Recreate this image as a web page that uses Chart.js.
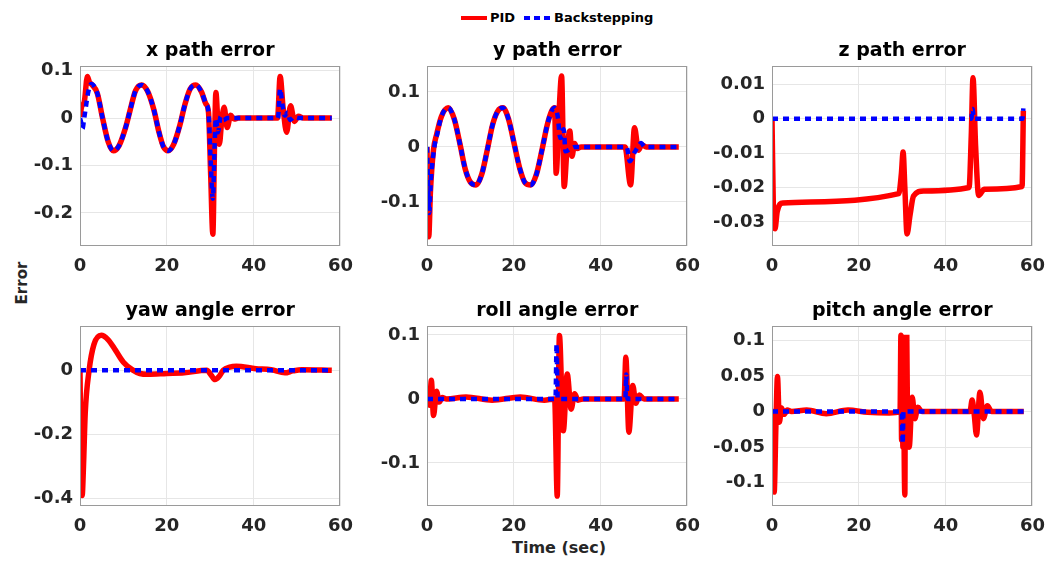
<!DOCTYPE html>
<html>
<head>
<meta charset="utf-8">
<script src="https://cdn.jsdelivr.net/npm/chart.js@4.4.1/dist/chart.umd.min.js"></script>
<style>
body{margin:0;width:1053px;height:561px;background:#fff;position:relative;overflow:hidden;
  font-family:"DejaVu Sans",sans-serif;font-weight:bold;}
canvas{position:absolute;}
.lbl{position:absolute;color:#262626;white-space:nowrap;line-height:1;}
.sw{position:absolute;height:4px;}
</style>
</head>
<body>
<!-- legend -->
<div class="sw" style="left:461px;top:16px;width:26px;background:#ff0000;"></div>
<div class="lbl" style="left:490px;top:11px;font-size:13px;color:#000;">PID</div>
<div class="sw" style="left:524px;top:16px;width:27px;background:repeating-linear-gradient(to right,#0000ff 0 6px,transparent 6px 10px);"></div>
<div class="lbl" style="left:554px;top:11px;font-size:13px;color:#000;">Backstepping</div>
<!-- shared axis labels -->
<div class="lbl" style="left:22px;top:283px;font-size:15px;transform:translate(-50%,-50%) rotate(-90deg);">Error</div>
<div class="lbl" style="left:559px;top:548px;font-size:16px;transform:translate(-50%,-50%);">Time (sec)</div>

<canvas id="c0" width="355" height="252"></canvas>
<canvas id="c1" width="355" height="252"></canvas>
<canvas id="c2" width="355" height="252"></canvas>
<canvas id="c3" width="355" height="252"></canvas>
<canvas id="c4" width="355" height="252"></canvas>
<canvas id="c5" width="355" height="252"></canvas>

<script>
// 时间轴刻度
var timeTicks = [0, 20, 40, 60];

// x path error
var xPidT = [0, 0.4, 1.0, 1.7, 2.2, 2.6, 4.0, 5.2, 6.5, 7.7, 9.0, 10.5, 11.5, 12.8, 14.2, 15.6, 17.0, 18.2, 19.2, 20.3, 21.6, 23.0, 24.2, 25.4, 26.7, 28.0, 29.0, 29.6, 30.1, 30.6, 31.0, 31.3, 31.7, 32.1, 32.6, 33.2, 33.9, 34.7, 35.5, 36.5, 45.5, 46.1, 46.8, 47.6, 48.5, 49.4, 50.3, 51.5, 58];
var xPidE = [0.003, 0.025, 0.035, 0.088, 0.075, 0.072, 0.052, 0.0, -0.05, -0.069, -0.058, -0.02, 0.015, 0.058, 0.07, 0.056, 0.018, -0.03, -0.06, -0.069, -0.055, -0.015, 0.03, 0.062, 0.07, 0.055, 0.03, 0.012, -0.12, -0.245, -0.05, 0.054, 0.0, -0.055, -0.01, 0.023, -0.02, 0.006, -0.002, 0, 0, 0.088, 0.02, -0.03, 0.026, -0.007, 0.004, 0, 0];
var xBsT = [0, 0.3, 0.6, 0.9, 1.3, 1.9, 2.6, 4.0, 5.2, 6.5, 7.7, 9.0, 10.5, 11.5, 12.8, 14.2, 15.6, 17.0, 18.2, 19.2, 20.3, 21.6, 23.0, 24.2, 25.4, 26.7, 28.0, 29.0, 29.6, 30.1, 30.6, 31.0, 31.3, 31.8, 32.4, 33.0, 34.0, 45.6, 46.1, 46.6, 47.2, 47.8, 48.4, 49.3, 50.5, 58];
var xBsE = [0, -0.01, -0.022, -0.005, 0.02, 0.055, 0.072, 0.052, 0.0, -0.05, -0.069, -0.058, -0.02, 0.015, 0.058, 0.07, 0.056, 0.018, -0.03, -0.06, -0.069, -0.055, -0.015, 0.03, 0.062, 0.07, 0.055, 0.03, 0.012, -0.09, -0.17, -0.06, 0.0, -0.03, 0.003, -0.004, 0, 0, 0.062, 0.03, 0.005, 0.012, -0.004, 0.002, 0, 0];
var xTicks = [-0.2, -0.1, 0, 0.1];

// y path error
var yPidT = [0, 0.15, 0.4, 0.8, 1.5, 2.2, 3.3, 4.9, 6.3, 7.6, 8.8, 10.0, 11.3, 12.6, 13.9, 15.1, 16.3, 17.5, 18.8, 20.1, 21.4, 22.6, 23.9, 25.2, 26.5, 27.7, 28.7, 29.4, 29.75, 30.4, 31.0, 31.6, 32.2, 32.9, 33.4, 34.0, 34.6, 35.5, 45.6, 46.9, 47.8, 48.7, 49.5, 50.5, 58];
var yPidE = [0, -0.08, -0.163, -0.08, -0.005, 0.022, 0.055, 0.071, 0.05, 0.005, -0.04, -0.064, -0.069, -0.05, -0.005, 0.04, 0.065, 0.071, 0.05, 0.005, -0.04, -0.065, -0.069, -0.05, -0.005, 0.04, 0.065, 0.071, -0.048, 0.06, 0.129, -0.072, -0.01, 0.029, -0.017, 0.006, -0.003, 0, 0, -0.069, 0.035, -0.006, 0.004, 0, 0];
var yBsT = [0, 0.25, 0.5, 0.9, 1.7, 2.4, 3.3, 4.9, 6.3, 7.6, 8.8, 10.0, 11.3, 12.6, 13.9, 15.1, 16.3, 17.5, 18.8, 20.1, 21.4, 22.6, 23.9, 25.2, 26.5, 27.7, 28.7, 29.4, 30.1, 30.7, 31.5, 31.9, 32.9, 34.0, 46.0, 46.7, 47.8, 48.6, 49.3, 50.2, 58];
var yBsE = [0, -0.07, -0.12, -0.06, 0.0, 0.025, 0.055, 0.071, 0.05, 0.005, -0.04, -0.064, -0.069, -0.05, -0.005, 0.04, 0.065, 0.071, 0.05, 0.005, -0.04, -0.065, -0.069, -0.05, -0.005, 0.04, 0.065, 0.071, 0.056, 0.016, 0.032, -0.008, -0.004, 0, 0, -0.026, -0.01, 0.0, 0.007, 0, 0];
var yTicks = [-0.1, 0, 0.1];

// z path error
var zPidT = [0, 0.3, 0.7, 1.2, 2.5, 29.2, 29.8, 30.2, 30.6, 31.1, 31.8, 32.6, 34.9, 45.4, 45.9, 46.3, 46.9, 47.6, 48.9, 57.6, 57.9];
var zPidE = [0, -0.025, -0.032, -0.027, -0.0245, -0.0218, -0.016, -0.0097, -0.02, -0.0335, -0.028, -0.0225, -0.021, -0.02, -0.005, 0.0119, -0.008, -0.0223, -0.0205, -0.0197, 0.0023];
var zBsT = [0, 45.9, 46.2, 46.5, 57.7, 57.9];
var zBsE = [0, 0, 0.0028, 0, 0, 0.003];
var zTicks = [-0.03, -0.02, -0.01, 0, 0.01];

// yaw angle error
var yawPidT = [0, 0.2, 0.5, 0.8, 1.2, 2.1, 3.2, 4.9, 6.5, 8.2, 10.0, 12.0, 13.8, 15.7, 20, 24, 29.2, 30.2, 31.1, 32.0, 33.0, 34.5, 36, 40.5, 44, 47.2, 49, 51.1, 58];
var yawPidE = [0, -0.25, -0.39, -0.3, -0.135, 0, 0.08, 0.109, 0.095, 0.062, 0.025, 0.002, -0.01, -0.0125, -0.01, -0.008, 0, -0.015, -0.029, -0.02, 0.0, 0.01, 0.0125, 0.005, 0.002, -0.008, -0.002, 0.002, 0];
var yawBsT = [0, 58];
var yawBsE = [0, 0];
var yawTicks = [-0.4, -0.2, 0];

// roll angle error
var rollPidT = [0, 0.3, 0.6, 1.0, 1.5, 2.2, 2.8, 3.5, 4.5, 9, 15, 21.5, 27, 29.4, 30.0, 30.5, 31.4, 32.3, 33.2, 34.0, 34.8, 36, 45.4, 45.8, 46.5, 47.4, 48.1, 48.9, 50, 58];
var rollPidE = [0, 0.015, -0.01, 0.029, -0.026, 0.012, -0.005, 0.002, 0, 0.003, -0.002, 0.003, -0.002, 0, -0.152, 0.099, -0.05, 0.039, -0.016, 0.008, -0.002, 0, 0, 0.065, -0.052, 0.021, -0.007, 0.006, 0, 0];
var rollBsT = [0, 29.6, 29.85, 30.1, 45.7, 45.9, 46.15, 58];
var rollBsE = [0, 0, 0.086, 0, 0, 0.038, 0, 0];
var rollTicks = [-0.1, 0, 0.1];

// pitch angle error
var pitchPidT = [0, 0.5, 0.9, 1.26, 1.7, 2.2, 2.8, 3.5, 4.5, 8, 12.5, 17.5, 22, 27, 29.5, 29.7, 29.85, 30.0, 30.15, 30.3, 30.45, 30.6, 30.75, 30.9, 31.05, 31.25, 31.6, 32.3, 32.9, 33.6, 34.5, 45.6, 46.1, 46.6, 47.1, 47.9, 48.7, 49.6, 50.6, 58];
var pitchPidE = [0.004, -0.113, -0.02, 0.049, -0.015, 0.005, -0.004, 0.002, 0, 0.002, -0.003, 0.002, -0.001, -0.002, 0, 0.107, -0.04, 0.105, -0.05, 0.104, -0.06, -0.117, 0.1, -0.045, 0.104, -0.04, -0.05, 0.02, -0.01, 0.006, 0, 0, 0.016, -0.005, -0.033, 0.027, -0.01, 0.008, 0, 0];
var pitchBsT = [0, 29.9, 30.1, 30.3, 58];
var pitchBsE = [0, 0, -0.045, 0, 0];
var pitchTicks = [-0.1, -0.05, 0, 0.05, 0.1];

// 六个子图
var panels = [
    {title: 'x path error', pidT: xPidT, pidE: xPidE, bsT: xBsT, bsE: xBsE, ticks: xTicks, min: -0.27, max: 0.11},
    {title: 'y path error', pidT: yPidT, pidE: yPidE, bsT: yBsT, bsE: yBsE, ticks: yTicks, min: -0.18, max: 0.147},
    {title: 'z path error', pidT: zPidT, pidE: zPidE, bsT: zBsT, bsE: zBsE, ticks: zTicks, min: -0.037, max: 0.0153},
    {title: 'yaw angle error', pidT: yawPidT, pidE: yawPidE, bsT: yawBsT, bsE: yawBsE, ticks: yawTicks, min: -0.423, max: 0.138},
    {title: 'roll angle error', pidT: rollPidT, pidE: rollPidE, bsT: rollBsT, bsE: rollBsE, ticks: rollTicks, min: -0.1675, max: 0.114},
    {title: 'pitch angle error', pidT: pitchPidT, pidE: pitchPidE, bsT: pitchBsT, bsE: pitchBsE, ticks: pitchTicks, min: -0.1326, max: 0.12}
];

// 画图区域位置
var colLeft = [80, 427, 772],
    rowTop = [66, 326],
    yAxisW = 72,
    titleH = 40;

// 画外框
var boxPlugin = {
    id: 'box',
    afterDraw: function(chart) {
        var a = chart.chartArea, c = chart.ctx;
        c.save();
        c.strokeStyle = '#9a9a9a';
        c.lineWidth = 1;
        c.strokeRect(Math.round(a.left) + 0.5, Math.round(a.top) + 0.5, Math.round(a.right - a.left) - 1, Math.round(a.bottom - a.top) - 1);
        c.restore();
    }
};

function pts(t, e) {
    return t.map(function(v, i) { return {x: v, y: e[i]}; });
}

panels.forEach(function(p, i) {
    var el = document.getElementById('c' + i);
    el.style.left = (colLeft[i % 3] - yAxisW) + 'px';
    el.style.top = (rowTop[Math.floor(i / 3)] - titleH) + 'px';

    new Chart(el.getContext('2d'), {
        type: 'line',
        data: {
            datasets: [
                {
                    label: 'PID',
                    data: pts(p.pidT, p.pidE),
                    borderColor: '#ff0000',
                    borderWidth: 5.5,
                    pointRadius: 0,
                    cubicInterpolationMode: 'monotone',
                    order: 1
                },
                {
                    label: 'Backstepping',
                    data: pts(p.bsT, p.bsE),
                    borderColor: '#0000ff',
                    borderWidth: 4.5,
                    borderDash: [6, 5],
                    borderCapStyle: 'butt',
                    pointRadius: 0,
                    cubicInterpolationMode: 'monotone',
                    order: 0
                }
            ]
        },
        options: {
            responsive: false,
            animation: false,
            devicePixelRatio: 1,
            layout: {padding: 0},
            plugins: {
                legend: {display: false},
                tooltip: {enabled: false},
                title: {
                    display: true,
                    text: p.title,
                    fullSize: false,
                    color: '#000',
                    font: {family: 'DejaVu Sans', weight: 'bold', size: 19, lineHeight: 1},
                    padding: {top: 16, bottom: 5}
                }
            },
            scales: {
                x: {
                    type: 'linear',
                    min: 0,
                    max: 60,
                    afterBuildTicks: function(s) { s.ticks = timeTicks.map(function(v) { return {value: v}; }); },
                    afterFit: function(s) { s.height = 32; },
                    grid: {color: '#e6e6e6', drawTicks: false},
                    border: {display: false},
                    ticks: {
                        padding: 10,
                        maxRotation: 0,
                        color: '#262626',
                        font: {family: 'DejaVu Sans', weight: 'bold', size: 18}
                    }
                },
                y: {
                    min: p.min,
                    max: p.max,
                    afterBuildTicks: function(s) { s.ticks = p.ticks.map(function(v) { return {value: v}; }); },
                    afterFit: function(s) { s.width = yAxisW; },
                    grid: {color: '#e6e6e6', drawTicks: false},
                    border: {display: false},
                    ticks: {
                        padding: 7,
                        color: '#262626',
                        font: {family: 'DejaVu Sans', weight: 'bold', size: 18},
                        callback: function(v) { return String(Number(v.toFixed(4))); }
                    }
                }
            }
        },
        plugins: [boxPlugin]
    });
});
</script>
</body>
</html>
